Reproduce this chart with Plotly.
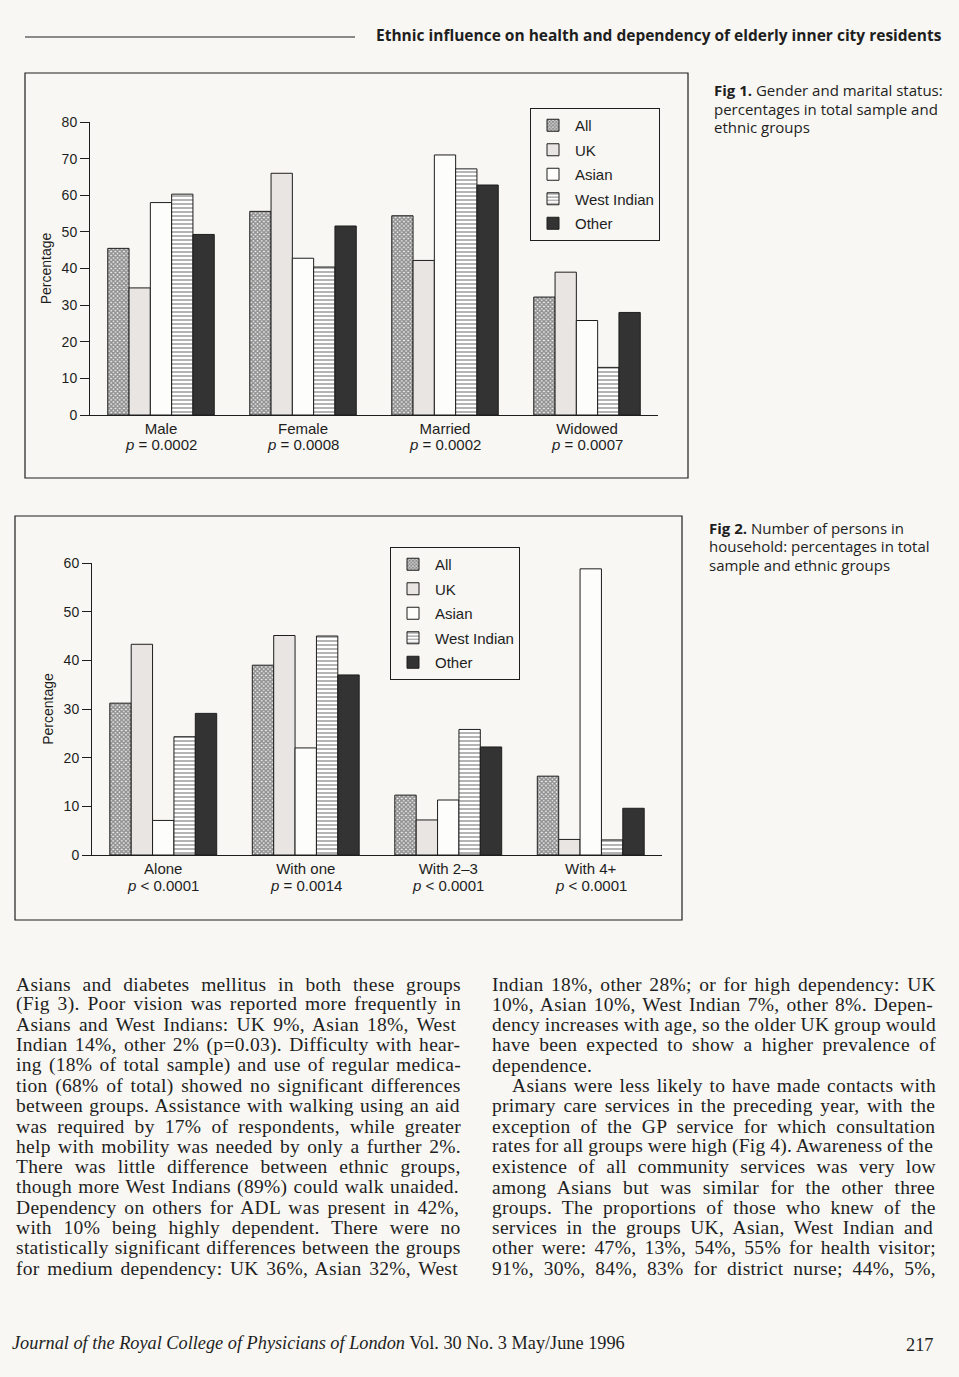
import plotly.graph_objects as go

W, H = 959, 1377

# ---------------- data ----------------
series = ["All", "UK", "Asian", "West Indian", "Other"]

fig1_categories = ["Male", "Female", "Married", "Widowed"]
fig1_pvalues = ["<i>p</i> = 0.0002", "<i>p</i> = 0.0008", "<i>p</i> = 0.0002", "<i>p</i> = 0.0007"]
fig1_all = [45.5, 55.6, 54.4, 32.2]
fig1_uk = [34.7, 66.0, 42.2, 39.0]
fig1_asian = [58.0, 42.8, 71.0, 25.8]
fig1_west_indian = [60.3, 40.4, 67.2, 13.0]
fig1_other = [49.3, 51.6, 62.8, 28.0]

fig2_categories = ["Alone", "With one", "With 2–3", "With 4+"]
fig2_pvalues = ["<i>p</i> < 0.0001", "<i>p</i> = 0.0014", "<i>p</i> < 0.0001", "<i>p</i> < 0.0001"]
fig2_all = [31.2, 39.0, 12.3, 16.2]
fig2_uk = [43.3, 45.1, 7.2, 3.2]
fig2_asian = [7.1, 22.0, 11.3, 58.8]
fig2_west_indian = [24.3, 45.0, 25.8, 3.1]
fig2_other = [29.1, 37.0, 22.2, 9.6]

fig1_ticks = [0, 10, 20, 30, 40, 50, 60, 70, 80]
fig2_ticks = [0, 10, 20, 30, 40, 50, 60]

header_text = "Ethnic influence on health and dependency of elderly inner city residents"
caption1 = ["<b>Fig 1.</b> Gender and marital status:",
            "percentages in total sample and",
            "ethnic groups"]
caption2 = ["<b>Fig 2.</b> Number of persons in",
            "household: percentages in total",
            "sample and ethnic groups"]

left_col = [
    "Asians and diabetes mellitus in both these groups",
    "(Fig 3). Poor vision was reported more frequently in",
    "Asians and West Indians: UK 9%, Asian 18%, West",
    "Indian 14%, other 2% (p=0.03). Difficulty with hear-",
    "ing (18% of total sample) and use of regular medica-",
    "tion (68% of total) showed no significant differences",
    "between groups. Assistance with walking using an aid",
    "was required by 17% of respondents, while greater",
    "help with mobility was needed by only a further 2%.",
    "There was little difference between ethnic groups,",
    "though more West Indians (89%) could walk unaided.",
    "Dependency on others for ADL was present in 42%,",
    "with 10% being highly dependent. There were no",
    "statistically significant differences between the groups",
    "for medium dependency: UK 36%, Asian 32%, West",
]
right_col = [
    "Indian 18%, other 28%; or for high dependency: UK",
    "10%, Asian 10%, West Indian 7%, other 8%. Depen-",
    "dency increases with age, so the older UK group would",
    "have been expected to show a higher prevalence of",
    "dependence.",
    "Asians were less likely to have made contacts with",
    "primary care services in the preceding year, with the",
    "exception of the GP service for which consultation",
    "rates for all groups were high (Fig 4). Awareness of the",
    "existence of all community services was very low",
    "among Asians but was similar for the other three",
    "groups. The proportions of those who knew of the",
    "services in the groups UK, Asian, West Indian and",
    "other were: 47%, 13%, 54%, 55% for health visitor;",
    "91%, 30%, 84%, 83% for district nurse; 44%, 5%,",
]
footer_journal = "<i>Journal of the Royal College of Physicians of London</i> Vol. 30 No. 3 May/June 1996"
page_number = "217"

# ---------------- styles ----------------
PAPER = "#f8f7f3"
INK = "#1e1e1e"
styles = {
    "All": dict(color="white", pattern=dict(shape="x", size=3, solidity=0.75, fgcolor="#2a2a2a", bgcolor="#f4f4f4")),
    "UK": dict(color="#e8e5e2"),
    "Asian": dict(color="#fdfdfb"),
    "West Indian": dict(color="white", pattern=dict(shape="-", size=4, solidity=0.4, fgcolor="#444444", bgcolor="#ffffff")),
    "Other": dict(color="#333333"),
}

def px(x):
    return x / W

def py(y):
    return 1 - y / H

fig = go.Figure()

data1 = [fig1_all, fig1_uk, fig1_asian, fig1_west_indian, fig1_other]
data2 = [fig2_all, fig2_uk, fig2_asian, fig2_west_indian, fig2_other]

for name, vals in zip(series, data1):
    st = styles[name]
    fig.add_trace(go.Bar(
        x=fig1_categories, y=vals, name=name, xaxis="x", yaxis="y", legend="legend",
        legendgroup="a" + name,
        marker=dict(color=st["color"], pattern=st.get("pattern"), line=dict(color=INK, width=1)),
    ))
for name, vals in zip(series, data2):
    st = styles[name]
    fig.add_trace(go.Bar(
        x=fig2_categories, y=vals, name=name, xaxis="x2", yaxis="y2", legend="legend2",
        legendgroup="b" + name,
        marker=dict(color=st["color"], pattern=st.get("pattern"), line=dict(color=INK, width=1)),
    ))

SANS = "Liberation Sans, Arial, sans-serif"
axis_font = dict(family=SANS, size=14, color=INK)

def xaxis(domain, anchor):
    return dict(domain=domain, anchor=anchor, showline=True, linecolor=INK, linewidth=1,
                showgrid=False, zeroline=False, ticks="", tickfont=dict(axis_font, size=15),
                fixedrange=True, automargin=False)

def yaxis(domain, anchor, ticks, rng):
    return dict(domain=domain, anchor=anchor, range=rng, tickvals=ticks, showline=True,
                linecolor=INK, linewidth=1, ticks="outside", ticklen=9, tickcolor=INK,
                showgrid=False, zeroline=False, tickfont=axis_font, automargin=False,
                title=dict(text="Percentage", font=axis_font, standoff=6))

legend_common = dict(bordercolor=INK, borderwidth=1, bgcolor="rgba(0,0,0,0)",
                     font=dict(family=SANS, size=15, color=INK),
                     xanchor="left", yanchor="top", tracegroupgap=2, itemwidth=34,
                     traceorder="grouped")

fig.update_layout(
    width=W, height=H, margin=dict(l=0, r=0, t=0, b=0, pad=0, autoexpand=False),
    paper_bgcolor=PAPER, plot_bgcolor=PAPER,
    barmode="group", bargap=0.25, bargroupgap=0,
    xaxis=xaxis([px(90), px(658)], "y"),
    yaxis=yaxis([py(415), py(122)], "x", fig1_ticks, [0, 80]),
    xaxis2=xaxis([px(92), px(662)], "y2"),
    yaxis2=yaxis([py(855), py(563)], "x2", fig2_ticks, [0, 60]),
    legend=dict(legend_common, x=px(530), y=py(108)),
    legend2=dict(legend_common, x=px(390), y=py(547)),
    showlegend=True,
)

shapes = [
    dict(type="line", xref="paper", yref="paper", x0=px(25), x1=px(355), y0=py(37), y1=py(37),
         line=dict(color=INK, width=1.2)),
    dict(type="rect", xref="paper", yref="paper", x0=px(25), x1=px(688), y0=py(478), y1=py(73),
         line=dict(color=INK, width=1.2)),
    dict(type="rect", xref="paper", yref="paper", x0=px(15), x1=px(682), y0=py(920), y1=py(516),
         line=dict(color=INK, width=1.2)),
]
fig.update_layout(shapes=shapes)

ann = []
ann.append(dict(text="<b>" + header_text + "</b>", x=px(944), y=py(35), xref="paper", yref="paper",
                xanchor="right", yanchor="middle", showarrow=False,
                font=dict(family="Open Sans, Noto Sans, sans-serif", size=15.5, color=INK)))

# p-value second line under each category
pfont = dict(family=SANS, size=15, color=INK)
for cat, pv in zip(fig1_categories, fig1_pvalues):
    ann.append(dict(text=pv, x=cat, xref="x", y=py(444), yref="paper", xanchor="center",
                    yanchor="middle", showarrow=False, font=pfont))
for cat, pv in zip(fig2_categories, fig2_pvalues):
    ann.append(dict(text=pv, x=cat, xref="x2", y=py(885), yref="paper", xanchor="center",
                    yanchor="middle", showarrow=False, font=pfont))

cap_font = dict(family="Open Sans, Noto Sans, sans-serif", size=15, color=INK)
for i, line in enumerate(caption1):
    ann.append(dict(text=line, x=px(712), y=py(90 + i * 18.5), xref="paper", yref="paper",
                    xanchor="left", yanchor="middle", showarrow=False, font=cap_font))
for i, line in enumerate(caption2):
    ann.append(dict(text=line, x=px(707), y=py(528 + i * 18.5), xref="paper", yref="paper",
                    xanchor="left", yanchor="middle", showarrow=False, font=cap_font))

# Times metrics (Liberation Serif is metric compatible) for justification
TW = {' ': 250, 'a': 444, 'b': 500, 'c': 444, 'd': 500, 'e': 444, 'f': 333, 'g': 500, 'h': 500,
      'i': 278, 'j': 278, 'k': 500, 'l': 278, 'm': 778, 'n': 500, 'o': 500, 'p': 500, 'q': 500,
      'r': 333, 's': 389, 't': 278, 'u': 500, 'v': 500, 'w': 722, 'x': 500, 'y': 500, 'z': 444,
      'A': 722, 'B': 667, 'C': 667, 'D': 722, 'E': 611, 'F': 556, 'G': 722, 'H': 722, 'I': 333,
      'J': 389, 'K': 722, 'L': 611, 'M': 889, 'N': 722, 'O': 722, 'P': 556, 'Q': 722, 'R': 667,
      'S': 556, 'T': 611, 'U': 722, 'V': 722, 'W': 944, 'X': 722, 'Y': 722, 'Z': 611,
      '%': 833, '(': 333, ')': 333, ',': 250, '.': 250, ':': 278, ';': 278, '-': 333, '=': 564}
BODY_SIZE = 19.5
LETTER = 0.3

def justified(line, target, justify=True):
    nat = sum(TW.get(c, 500) for c in line) * BODY_SIZE / 1000 + LETTER * len(line)
    n = line.count(' ')
    ws = (target - nat) / n if (n and justify) else 0
    ws = max(min(ws, 8), -1)
    return '<span style="letter-spacing:%.2fpx;word-spacing:%.2fpx">%s</span>' % (LETTER, ws, line)

body_font = dict(family="Liberation Serif, Times New Roman, serif", size=BODY_SIZE, color=INK)
for i, line in enumerate(left_col):
    ann.append(dict(text=justified(line, 445), x=px(14), y=py(984 + i * 20.3), xref="paper", yref="paper",
                    xanchor="left", yanchor="middle", showarrow=False, font=body_font))
for i, line in enumerate(right_col):
    xs = 510 if i == 5 else 490
    txt = justified(line, 934 - xs, justify=(line != "dependence."))
    ann.append(dict(text=txt, x=px(xs), y=py(984 + i * 20.3), xref="paper", yref="paper",
                    xanchor="left", yanchor="middle", showarrow=False, font=body_font))

foot_font = dict(family="Liberation Serif, Times New Roman, serif", size=18.3, color=INK)
ann.append(dict(text=footer_journal, x=px(10), y=py(1343), xref="paper", yref="paper",
                xanchor="left", yanchor="middle", showarrow=False, font=foot_font))
ann.append(dict(text=page_number, x=px(935), y=py(1345), xref="paper", yref="paper",
                xanchor="right", yanchor="middle", showarrow=False, font=foot_font))

fig.update_layout(annotations=ann)

fig.write_html("out.html", config={"displayModeBar": False},
               post_script="document.body.style.margin='0';document.body.style.overflow='hidden';")
